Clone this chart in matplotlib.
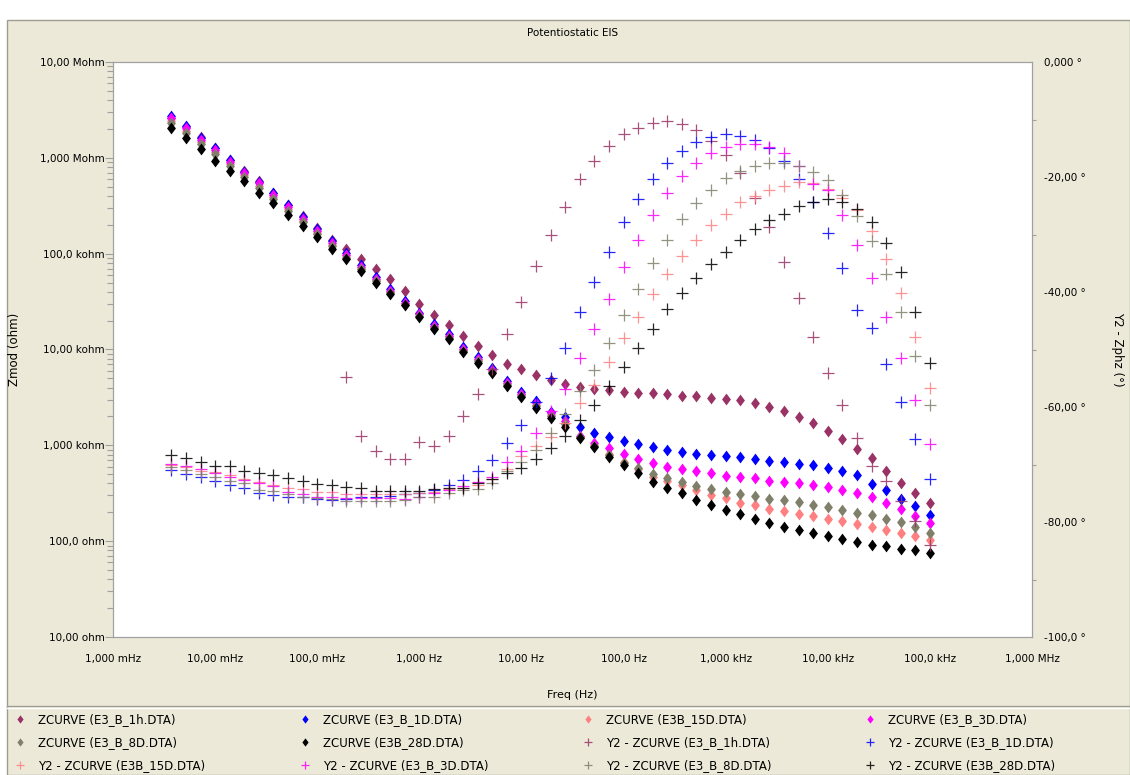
#Bode plot (Potentiostatic EIS) - Zmod and phase for six exposure times

#importing all libraries which will be used.
import numpy as np
import matplotlib.pyplot as plt
from matplotlib.ticker import FixedLocator, FixedFormatter, LogLocator, NullFormatter, NullLocator, MultipleLocator
from matplotlib.patches import Rectangle
from matplotlib.lines import Line2D

#frequencies (Hz), 100 kHz down to ~4 mHz
freq = [1e5, 7.197e4, 5.179e4, 3.728e4, 2.683e4, 1.931e4, 1.389e4,
        1e4, 7197, 5179, 3728, 2683, 1931, 1389,
        1000, 719.7, 517.9, 372.8, 268.3, 193.1, 138.9,
        100, 71.97, 51.79, 37.28, 26.83, 19.31, 13.89,
        10, 7.197, 5.179, 3.728, 2.683, 1.931, 1.389,
        1.0, 0.7197, 0.5179, 0.3728, 0.2683, 0.1931, 0.1389,
        0.1, 0.07197, 0.05179, 0.03728, 0.02683, 0.01931, 0.01389,
        0.01, 0.007197, 0.005179, 0.003728]

#Zmod (ohm)
zmod_1h = [248, 315, 406, 542, 740, 912, 1170, 1410, 1720, 1980, 2290, 2520, 2780, 2970,
           3040, 3140, 3260, 3260, 3400, 3530, 3530, 3620, 3770, 3840, 4080, 4350, 4800,
           5410, 6200, 7050, 8750, 1.09e4, 1.39e4, 1.80e4, 2.29e4, 2.96e4, 4.07e4, 5.4e4,
           6.9e4, 8.8e4, 1.11e5, 1.40e5, 1.85e5, 2.45e5, 3.25e5, 4.3e5, 5.7e5, 7.3e5,
           9.6e5, 1.28e6, 1.65e6, 2.1e6, 2.6e6]
zmod_1d = [187, 232, 277, 338, 394, 485, 538, 583, 621, 641, 668, 689, 723, 747, 771, 784,
           816, 849, 891, 950, 1021, 1106, 1218, 1352, 1562, 1954, 2240, 2890, 3620, 4710,
           6350, 8390, 1.07e4, 1.44e4, 1.84e4, 2.42e4, 3.20e4, 4.24e4, 5.74e4, 7.60e4,
           1.01e5, 1.35e5, 1.79e5, 2.39e5, 3.19e5, 4.26e5, 5.63e5, 7.16e5, 9.48e5,
           1.275e6, 1.62e6, 2.15e6, 2.75e6]
zmod_15d = [102, 113, 122, 130, 139, 152, 162, 172, 181, 193, 206, 219, 238, 253, 279, 302,
            341, 390, 426, 469, 573, 673, 809, 1005, 1208, 1692, 2080, 2650, 3350, 4400,
            5900, 7750, 9900, 1.34e4, 1.71e4, 2.25e4, 2.97e4, 3.95e4, 5.3e4, 7.0e4, 9.3e4,
            1.24e5, 1.65e5, 2.2e5, 2.9e5, 3.9e5, 5.1e5, 6.6e5, 8.6e5, 1.15e6, 1.46e6,
            1.9e6, 2.4e6]
zmod_3d = [155, 184, 219, 253, 288, 315, 338, 366, 390, 403, 416, 426, 455, 466, 481, 509,
           534, 560, 597, 647, 723, 803, 927, 1063, 1247, 1803, 2150, 2750, 3450, 4500,
           6050, 8000, 1.02e4, 1.38e4, 1.76e4, 2.32e4, 3.05e4, 4.05e4, 5.5e4, 7.3e4, 9.7e4,
           1.3e5, 1.72e5, 2.3e5, 3.05e5, 4.1e5, 5.4e5, 6.9e5, 9.1e5, 1.22e6, 1.55e6,
           2.05e6, 2.6e6]
zmod_8d = [122, 140, 157, 172, 187, 199, 214, 230, 239, 255, 266, 274, 297, 307, 325, 349,
           378, 410, 458, 500, 587, 657, 784, 981, 1208, 1665, 2020, 2580, 3300, 4300,
           5800, 7600, 9700, 1.32e4, 1.69e4, 2.22e4, 2.93e4, 3.88e4, 5.2e4, 6.9e4, 9.1e4,
           1.21e5, 1.6e5, 2.13e5, 2.8e5, 3.75e5, 4.9e5, 6.35e5, 8.3e5, 1.1e6, 1.4e6,
           1.82e6, 2.3e6]
zmod_28d = [76, 80, 83, 88, 91, 98, 106, 114, 122, 130, 140, 155, 172, 193, 214, 239, 272,
            315, 360, 416, 517, 621, 759, 950, 1179, 1562, 1910, 2430, 3210, 4150, 5630,
            7260, 9330, 1.28e4, 1.63e4, 2.19e4, 2.91e4, 3.76e4, 4.97e4, 6.63e4, 8.72e4,
            1.12e5, 1.48e5, 1.96e5, 2.53e5, 3.35e5, 4.26e5, 5.73e5, 7.28e5, 9.33e5,
            1.24e6, 1.60e6, 2.03e6]

#Zphz (degrees)
nan = float('nan')
phz_1h = [-84.0, -79.9, -76.3, -72.8, -70.3, -65.4, -59.7, -54.1, -47.9, -41.1, -34.7,
          -28.7, -23.7, -19.3, -16.1, -13.7, -11.9, -10.8, -10.3, -10.6, -11.4, -12.6,
          -14.6, -17.3, -20.4, -25.3, -30.1, -35.5, -41.7, -47.3, -53.4, -57.8, -61.5,
          -65.0, -66.7, -66.1, -69.0, -69.0, -67.7, -65.1, -54.8,
          nan, nan, nan, nan, nan, nan, nan, nan, nan, nan, nan, nan]
phz_1d = [-72.5, -65.6, -59.2, -52.6, -46.2, -43.2, -35.8, -29.7, -24.4, -20.4, -17.3,
          -15.0, -13.5, -12.8, -12.6, -13.1, -13.9, -15.5, -17.6, -20.4, -23.8, -27.9,
          -33.1, -38.3, -43.5, -49.7, -54.9, -59.2, -63.2, -66.3, -69.2, -71.2, -72.7,
          -73.6, -74.4, -74.9, -75.2, -75.4, -75.6, -75.7, -76.0, -76.1, -76.0, -75.7,
          -75.6, -75.3, -75.0, -74.1, -73.6, -72.9, -72.1, -71.6, -70.9]
phz_15d = [-56.7, -47.9, -40.1, -34.3, -29.4, -25.7, -23.7, -22.0, -21.1, -20.9, -21.5,
           -22.2, -23.3, -24.4, -26.4, -28.4, -30.9, -33.7, -36.8, -40.4, -44.3, -48.0,
           -52.2, -56.1, -59.3, -62.8, -65.3, -66.8, -68.6, -70.7, -72.6, -73.5, -74.0,
           -74.3, -74.7, -75.0, -75.1, -75.1, -75.1, -75.1, -75.1, -74.8, -74.7, -74.3,
           -74.1, -73.5, -73.1, -72.5, -71.8, -71.3, -71.1, -70.5, -70.0]
phz_3d = [-66.4, -58.7, -51.4, -44.3, -37.6, -31.9, -26.6, -22.3, -21.2, -18.0, -15.9,
          -14.7, -14.2, -14.2, -14.7, -15.8, -17.6, -19.9, -22.7, -26.6, -30.9, -35.7,
          -41.2, -46.5, -51.4, -56.9, -60.7, -64.5, -67.6, -69.6, -72.1, -73.1, -73.8,
          -74.4, -75.0, -75.7, -76.0, -75.9, -75.9, -75.9, -75.9, -75.7, -75.6, -75.1,
          -74.8, -73.8, -73.2, -72.7, -72.1, -71.4, -70.8, -70.3, -69.9]
phz_8d = [-59.7, -51.1, -43.4, -36.8, -31.2, -26.8, -23.1, -20.6, -19.1, -18.1, -17.6,
          -17.5, -18.0, -19.0, -20.2, -22.2, -24.5, -27.3, -30.9, -35.0, -39.4, -44.0,
          -48.9, -53.5, -57.3, -61.3, -64.5, -67.4, -69.5, -71.2, -73.2, -74.3, -74.4,
          -75.0, -75.6, -75.7, -76.1, -76.3, -76.3, -76.3, -76.3, -76.0, -75.9, -75.6,
          -75.2, -74.6, -74.4, -73.2, -72.8, -72.1, -71.7, -70.9, -70.5]
phz_28d = [-52.3, -43.5, -36.6, -31.5, -27.8, -25.5, -24.4, -23.9, -24.3, -25.0, -26.4,
           -27.5, -29.1, -30.9, -33.0, -35.1, -37.6, -40.2, -43.0, -46.4, -49.7, -53.0,
           -56.4, -59.6, -62.2, -65.1, -67.2, -69.0, -70.6, -71.5, -72.5, -73.2, -74.0,
           -74.0, -74.3, -74.6, -74.6, -74.6, -74.6, -74.1, -73.9, -73.6, -73.4, -72.9,
           -72.3, -71.8, -71.4, -71.1, -70.3, -70.2, -69.5, -68.9, -68.4]

files = ["E3_B_1h.DTA", "E3_B_1D.DTA", "E3B_15D.DTA", "E3_B_3D.DTA", "E3_B_8D.DTA", "E3B_28D.DTA"]
colors = ["#993366", "#0000FF", "#FF8080", "#FF00FF", "#80806A", "#000000"]

#tick labels
x_ticks = [1e-3, 1e-2, 1e-1, 1, 10, 100, 1e3, 1e4, 1e5, 1e6]
x_labels = ["1,000 mHz", "10,00 mHz", "100,0 mHz", "1,000 Hz", "10,00 Hz", "100,0 Hz",
            "1,000 kHz", "10,00 kHz", "100,0 kHz", "1,000 MHz"]
y_ticks = [10, 100, 1e3, 1e4, 1e5, 1e6, 1e7]
y_labels = ["10,00 ohm", "100,0 ohm", "1,000 kohm", "10,00 kohm", "100,0 kohm",
            "1,000 Mohm", "10,00 Mohm"]
y2_ticks = [-100, -80, -60, -40, -20, 0]
y2_labels = ["-100,0 °", "-80,00 °", "-60,00 °", "-40,00 °", "-20,00 °", "0,000 °"]

zmods = [zmod_1h, zmod_1d, zmod_15d, zmod_3d, zmod_8d, zmod_28d]
phzs = [phz_1h, phz_1d, phz_15d, phz_3d, phz_8d, phz_28d]

plt.rcParams['font.family'] = ['DejaVu Sans']
plt.rcParams['font.size'] = 7.5

W, H = 1130, 775
fig = plt.figure(figsize=(W / 100, H / 100), dpi=100, facecolor="white")

#beige panel behind everything
fig.patches.append(Rectangle((7 / W, 0), 1 - 7 / W, 1 - 20 / H, transform=fig.transFigure,
                             facecolor="#ECE9D8", edgecolor="#9D9D92", lw=1.0, zorder=-10))
fig.add_artist(Line2D([7 / W, 1], [1 - 706 / H] * 2, color="#9D9D92", lw=1.0))
fig.add_artist(Line2D([7 / W, 1], [1 - 708 / H] * 2, color="white", lw=1.0))

ax = fig.add_axes([113 / W, 1 - 637 / H, (1032 - 113) / W, (637 - 62) / H])
ax.set_facecolor("white")
ax2 = ax.twinx()

diamond = [(0, 1), (0.75, 0), (0, -1), (-0.75, 0)]
handles_z, handles_p = [], []
for z, c, name in zip(zmods, colors, files):
    h, = ax.plot(freq, z, linestyle="none", marker=diamond, markersize=8.5,
                 color=c, markeredgewidth=0, label="ZCURVE (" + name + ")")
    handles_z.append(h)
for p, c, name in zip(phzs, colors, files):
    h, = ax2.plot(freq, p, linestyle="none", marker="+", markersize=8,
                  color=c, markeredgewidth=0.9, alpha=0.85, label="Y2 - ZCURVE (" + name + ")")
    handles_p.append(h)

ax.set_xscale("log")
ax.set_yscale("log")
ax.set_xlim(1e-3, 1e6)
ax.set_ylim(10, 1e7)
ax2.set_ylim(-100, 0)

ax.xaxis.set_major_locator(FixedLocator(x_ticks))
ax.xaxis.set_major_formatter(FixedFormatter(x_labels))
ax.xaxis.set_minor_locator(NullLocator())
ax.yaxis.set_major_locator(FixedLocator(y_ticks))
ax.yaxis.set_major_formatter(FixedFormatter(y_labels))
ax.yaxis.set_minor_locator(LogLocator(base=10, subs=np.arange(2, 10)))
ax.yaxis.set_minor_formatter(NullFormatter())
ax2.yaxis.set_major_locator(FixedLocator(y2_ticks))
ax2.yaxis.set_major_formatter(FixedFormatter(y2_labels))
ax2.yaxis.set_minor_locator(MultipleLocator(10))

ax.tick_params(axis="y", which="major", length=6, width=0.8, color="#A0A0A0", pad=0, labelsize=7.5)
ax.tick_params(axis="y", which="minor", length=4, width=0.8, color="#A0A0A0")
ax.tick_params(axis="x", which="major", length=0, pad=12, labelsize=7.5)
ax2.tick_params(axis="y", which="major", length=0, pad=9, labelsize=7.5)
ax2.tick_params(axis="y", which="minor", length=3, width=0.8, color="#A0A0A0")

for a in (ax, ax2):
    for s in a.spines.values():
        s.set_color("#A0A0A0")
        s.set_linewidth(0.8)

ax.set_title("Potentiostatic EIS", fontsize=7.5, pad=19)
ax.set_xlabel("Freq (Hz)", fontsize=8)
ax.xaxis.set_label_coords(0.5, -0.092)
ax.set_ylabel("Zmod (ohm)", fontsize=8.5)
ax.yaxis.set_label_coords(-0.1, 0.5)
ax2.set_ylabel("Y2 - Zphz (°)", fontsize=8.5, rotation=270, va="center")
ax2.yaxis.set_label_coords(1.093, 0.5)

#legend in 4 columns, row-major order as in the source program
entries = handles_z + handles_p
col_x = [14, 299, 582, 864]
for j in range(4):
    hs = [entries[j], entries[j + 4], entries[j + 8]]
    fig.legend(handles=hs, labels=[h.get_label() for h in hs], loc="upper left",
               bbox_to_anchor=(col_x[j] / W, 1 - 713 / H), frameon=False,
               fontsize=8.5, handlelength=1.0, handletextpad=1.0, labelspacing=0.85,
               borderpad=0, borderaxespad=0, markerscale=0.7)

fig.savefig("out.png", dpi=100, facecolor=fig.get_facecolor())
